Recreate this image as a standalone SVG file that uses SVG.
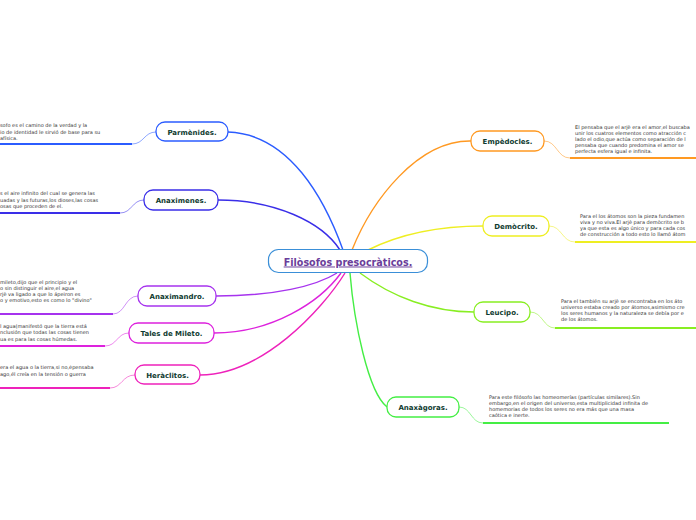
<svg xmlns="http://www.w3.org/2000/svg" width="696" height="520" viewBox="0 0 696 520">
<style>
.node{fill:#fff;stroke-width:1.3}
.lbl{font-family:"DejaVu Sans",Verdana,sans-serif;font-weight:bold;font-size:7px;fill:#0f3b30;text-anchor:middle}
.txt{font-family:"DejaVu Sans",Verdana,sans-serif;font-size:5px;fill:#333}
.main{fill:none;stroke-width:1.4}
.sub{fill:none;stroke-width:0.9;opacity:0.6}
.ul{fill:none;stroke-width:1.8}
</style>
<rect width="696" height="520" fill="#fff"/>
<g id="connectors">
<path class="main" stroke="#2b5cff" d="M228,132 C290,134 325,200 343,250"/>
<path class="main" stroke="#3a2ee8" d="M218,200 C275,200 322,222 340,250"/>
<path class="main" stroke="#a633ee" d="M216,296 C275,296 316,286 337,273"/>
<path class="main" stroke="#dd22dd" d="M214,333 C272,333 320,302 341,273"/>
<path class="main" stroke="#ee22bb" d="M200,375 C262,375 322,310 345,273"/>
<path class="main" stroke="#ff9922" d="M471,141 C418,140 372,200 352,250"/>
<path class="main" stroke="#eeee22" d="M483,226 C440,226 400,234 368,250"/>
<path class="main" stroke="#88ee22" d="M474,312 C432,312 392,297 360,273"/>
<path class="main" stroke="#44ee44" d="M387,407 C368,392 354,322 350,273"/>
<path class="sub" stroke="#2b5cff" d="M156,132 C144,132 144,144 132,144"/>
<path class="ul" stroke="#2b5cff" d="M0,144 H132"/>
<path class="sub" stroke="#3a2ee8" d="M144,200 C132,200 132,213 120,213"/>
<path class="ul" stroke="#3a2ee8" d="M0,213 H120"/>
<path class="sub" stroke="#a633ee" d="M138,296 C125,296 125,314 113,314"/>
<path class="ul" stroke="#a633ee" d="M0,314 H113"/>
<path class="sub" stroke="#dd22dd" d="M129,333 C117,333 117,346 105,346"/>
<path class="ul" stroke="#dd22dd" d="M0,346 H105"/>
<path class="sub" stroke="#ee22bb" d="M135,375 C122,375 122,388 110,388"/>
<path class="ul" stroke="#ee22bb" d="M0,388 H110"/>
<path class="sub" stroke="#ff9922" d="M544,141 C557,141 557,158 570,158"/>
<path class="ul" stroke="#ff9922" d="M570,158 H696"/>
<path class="sub" stroke="#eeee22" d="M549,226 C562,226 562,242 575,242"/>
<path class="ul" stroke="#eeee22" d="M575,242 H696"/>
<path class="sub" stroke="#88ee22" d="M530,312 C543,312 543,328 555,328"/>
<path class="ul" stroke="#88ee22" d="M555,328 H696"/>
<path class="sub" stroke="#44ee44" d="M459,407 C471,407 471,423 483,423"/>
<path class="ul" stroke="#44ee44" d="M483,423 H669"/>
</g>
<g id="central">
<rect x="268.5" y="249.5" width="159" height="23" rx="10" fill="#fff" stroke="#3a8fd8" stroke-width="1.2"/>
<text x="348" y="265.5" font-family="DejaVu Sans,Verdana,sans-serif" font-weight="bold" font-size="9.6px" fill="#6a3d9a" text-anchor="middle" text-decoration="underline">Filòsofos presocràticos.</text>
</g>
<g id="parmenides">
<rect class="node" x="156" y="122" width="72" height="19" rx="9" stroke="#2b5cff"/>
<text class="lbl" x="192" y="134.5">Parmènides.</text>
<text class="txt"><tspan x="0" y="127">sofo es el camino de la verdad y la</tspan><tspan x="0" y="133.5">io de identidad le sirvió de base para su</tspan><tspan x="0" y="140">afísica.</tspan></text>
</g>
<g id="anaximenes">
<rect class="node" x="144" y="190" width="74" height="20" rx="9" stroke="#3a2ee8"/>
<text class="lbl" x="181" y="202.5">Anaximenes.</text>
<text class="txt"><tspan x="0" y="195">s el aire infinito del cual se genera las</tspan><tspan x="0" y="201.5">uadas y las futuras,los dioses,las cosas</tspan><tspan x="0" y="208">osas que proceden de el.</tspan></text>
</g>
<g id="anaximandro">
<rect class="node" x="138" y="286" width="78" height="20" rx="9" stroke="#a633ee"/>
<text class="lbl" x="177" y="298.5">Anaximandro.</text>
<text class="txt"><tspan x="0" y="284">mileto,dijo que el principio y el</tspan><tspan x="0" y="290">o sin distinguir el aire,el agua</tspan><tspan x="0" y="296">rjè va ligado a que lo ápeiron es</tspan><tspan x="0" y="302">o y emotivo,esto es como lo "divino"</tspan></text>
</g>
<g id="tales">
<rect class="node" x="129" y="323" width="85" height="20" rx="9" stroke="#dd22dd"/>
<text class="lbl" x="171.5" y="335.5">Tales de Mileto.</text>
<text class="txt"><tspan x="0" y="328">l agua(manifestó que la tierra está</tspan><tspan x="0" y="334">nclusión que todas las cosas tienen</tspan><tspan x="0" y="340.5">ua es para las cosas húmedas.</tspan></text>
</g>
<g id="heraclitos">
<rect class="node" x="135" y="365" width="65" height="19" rx="9" stroke="#ee22bb"/>
<text class="lbl" x="167.5" y="377.5">Heràclitos.</text>
<text class="txt"><tspan x="0" y="369">era el agua o la tierra,si no,ėpensaba</tspan><tspan x="0" y="375.5">ago,él creía en la tensión o guerra</tspan></text>
</g>
<g id="empedocles">
<rect class="node" x="471" y="131" width="73" height="20" rx="9" stroke="#ff9922"/>
<text class="lbl" x="507.5" y="143.5">Empèdocles.</text>
<text class="txt"><tspan x="575" y="129">El pensaba que el arjè era el amor,el buscaba</tspan><tspan x="575" y="135">unir los cuatros elementos como atracción c</tspan><tspan x="575" y="141">lado el odio,que actúa como separación de l</tspan><tspan x="575" y="147">pensaba que cuando predomina el amor se</tspan><tspan x="575" y="153">perfecta esfera igual e infinita.</tspan></text>
</g>
<g id="democrito">
<rect class="node" x="483" y="216" width="66" height="20" rx="9" stroke="#eeee22"/>
<text class="lbl" x="516" y="228.5">Demòcrito.</text>
<text class="txt"><tspan x="580" y="218">Para el los átomos son la pieza fundamen</tspan><tspan x="580" y="224">viva y no viva.El arjè para demòcrito se b</tspan><tspan x="580" y="230">ya que esta es algo único y para cada cos</tspan><tspan x="580" y="236">de construcción a todo esto lo llamó átom</tspan></text>
</g>
<g id="leucipo">
<rect class="node" x="474" y="302" width="56" height="20" rx="9" stroke="#88ee22"/>
<text class="lbl" x="502" y="314.5">Leucipo.</text>
<text class="txt"><tspan x="561" y="303">Para el también su arjè se encontraba en los áto</tspan><tspan x="561" y="309">universo estaba creado por átomos,asimismo cre</tspan><tspan x="561" y="315">los seres humanos y la naturaleza se debía por e</tspan><tspan x="561" y="321">de los átomos.</tspan></text>
</g>
<g id="anaxagoras">
<rect class="node" x="387" y="397" width="72" height="20" rx="9" stroke="#44ee44"/>
<text class="lbl" x="423" y="409.5">Anaxàgoras.</text>
<text class="txt"><tspan x="489" y="399">Para este filósofo las homeomerías (partículas similares).Sin</tspan><tspan x="489" y="405">embargo,en el origen del universo,esta multiplicidad infinita de</tspan><tspan x="489" y="411">homemorias de todos los seres no era más que una masa</tspan><tspan x="489" y="417">caótica e inerte.</tspan></text>
</g>
</svg>
